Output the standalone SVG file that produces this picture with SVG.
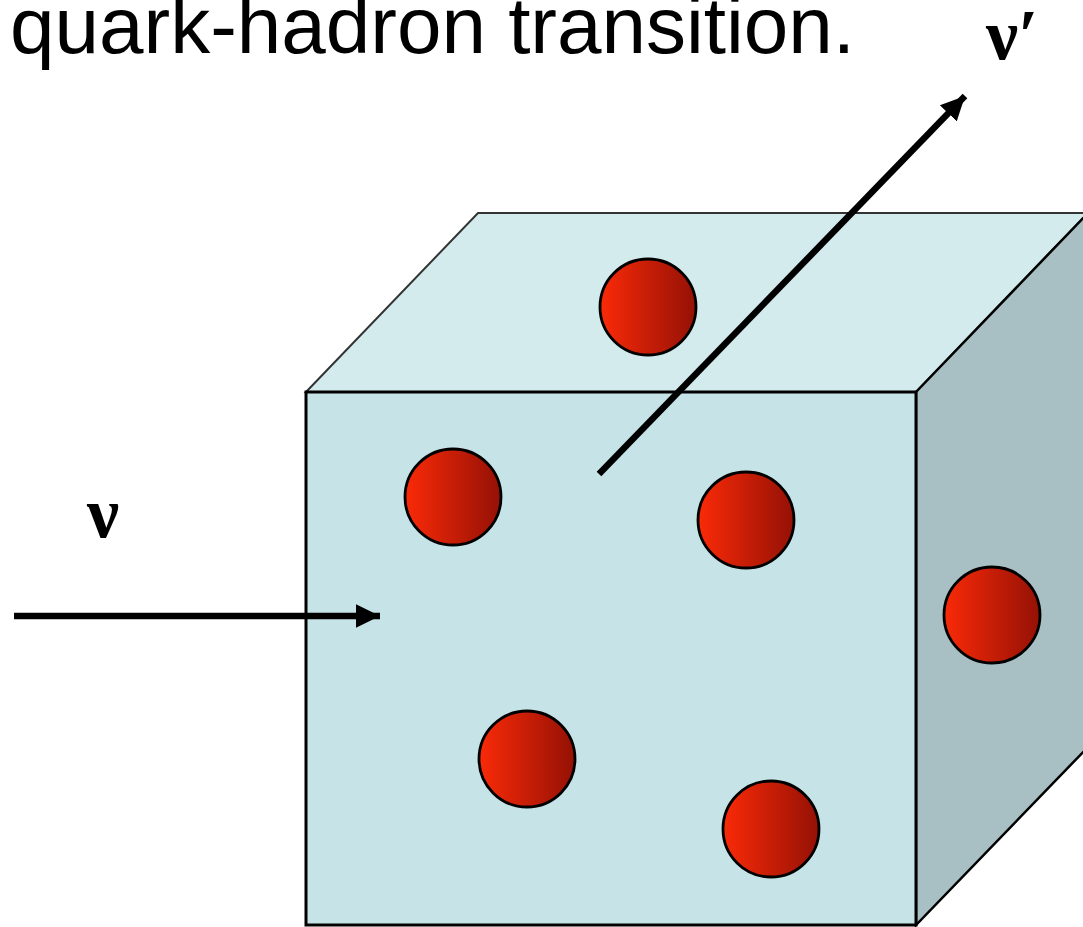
<svg xmlns="http://www.w3.org/2000/svg" width="1083" height="927" viewBox="0 0 1083 927">
<defs>
<linearGradient id="red" x1="0" y1="0" x2="1" y2="0">
<stop offset="0" stop-color="#fa2a08"/>
<stop offset="1" stop-color="#941105"/>
</linearGradient>
<marker id="ah" markerWidth="5" markerHeight="5" refX="3.7" refY="2.5" orient="auto" markerUnits="strokeWidth">
<path d="M0,0.7 L3.7,2.5 L0,4.3 Z" fill="#000"/>
</marker>
<style>
.ball{fill:url(#red);stroke:#000;stroke-width:2.8}
.arr{stroke:#000;stroke-width:6.5;fill:none;marker-end:url(#ah)}
.greek{font-family:"Liberation Serif","DejaVu Serif",serif;font-size:72px;font-weight:bold;fill:#000}
</style>
</defs>
<rect width="1083" height="927" fill="#fff"/>
<text x="10" y="53" font-family="Liberation Sans, Arial, sans-serif" font-size="80" font-weight="300" textLength="845" lengthAdjust="spacingAndGlyphs" fill="#000">quark-hadron transition.</text>
<g id="cube">
<polygon id="top" points="306,392 478,213 1088,213 916,392" fill="#d3ebec" stroke="#333" stroke-width="2"/>
<polygon id="side" points="916,392 1088,213 1088,747 916,925" fill="#a8c0c4" stroke="#000" stroke-width="2.5"/>
<rect id="front" x="306" y="392" width="610" height="533" fill="#c6e4e8" stroke="#000" stroke-width="3"/>
</g>
<g id="balls">
<circle id="b1" class="ball" cx="648" cy="307" r="48"/>
<circle id="b2" class="ball" cx="453" cy="497" r="48"/>
<circle id="b3" class="ball" cx="746" cy="520" r="48"/>
<circle id="b4" class="ball" cx="992" cy="615" r="48"/>
<circle id="b5" class="ball" cx="527" cy="759" r="48"/>
<circle id="b6" class="ball" cx="771" cy="829" r="48"/>
</g>
<g id="connectors">
<line class="arr" x1="14" y1="616" x2="380" y2="616"/>
<line class="arr" x1="599" y1="474" x2="965" y2="96"/>
</g>
<g id="labels">
<text class="greek" x="87" y="537">ν</text>
<text class="greek" x="986" y="59">ν′</text>
</g>
</svg>
